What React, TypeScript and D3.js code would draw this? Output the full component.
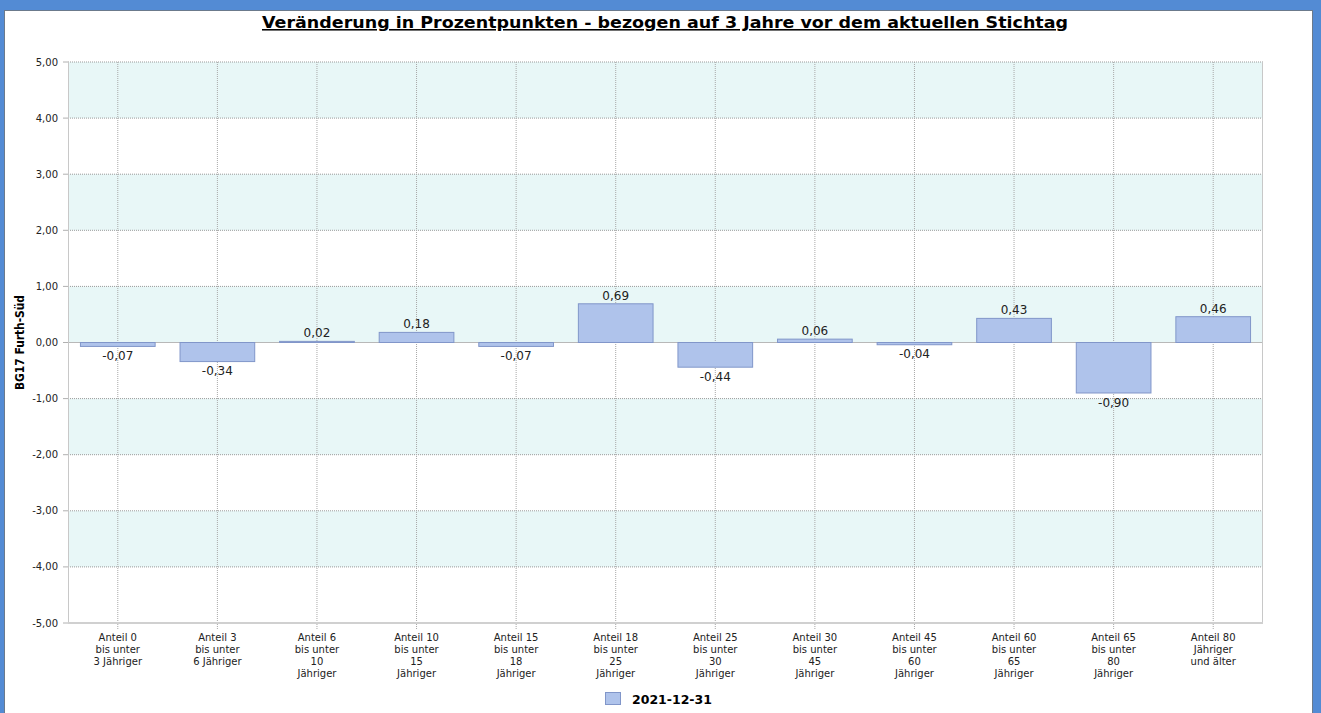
import React, { useEffect } from 'react'
import * as d3 from 'd3'

const W = 1321
const H = 713
const M = { top: 62, right: 58, bottom: 90, left: 68 }

const TITLE = 'Veränderung in Prozentpunkten - bezogen auf 3 Jahre vor dem aktuellen Stichtag'
const Y_TITLE = 'BG17 Furth-Süd'
const SERIES = '2021-12-31'

const categories = [
  ['Anteil 0', 'bis unter', '3 Jähriger'],
  ['Anteil 3', 'bis unter', '6 Jähriger'],
  ['Anteil 6', 'bis unter', '10', 'Jähriger'],
  ['Anteil 10', 'bis unter', '15', 'Jähriger'],
  ['Anteil 15', 'bis unter', '18', 'Jähriger'],
  ['Anteil 18', 'bis unter', '25', 'Jähriger'],
  ['Anteil 25', 'bis unter', '30', 'Jähriger'],
  ['Anteil 30', 'bis unter', '45', 'Jähriger'],
  ['Anteil 45', 'bis unter', '60', 'Jähriger'],
  ['Anteil 60', 'bis unter', '65', 'Jähriger'],
  ['Anteil 65', 'bis unter', '80', 'Jähriger'],
  ['Anteil 80', 'Jähriger', 'und älter'],
]
const values = [-0.07, -0.34, 0.02, 0.18, -0.07, 0.69, -0.44, 0.06, -0.04, 0.43, -0.9, 0.46]
const yDomain = [-5, 5]

const locale = d3.formatLocale({ decimal: ',', thousands: '.', grouping: [3], currency: ['', ' €'], minus: '-' })
const fmt = locale.format('.2f')

const FONT = '"DejaVu Sans", Verdana, sans-serif'

const App = () => {
  useEffect(() => {
    document.body.style.margin = '0'
  }, [])

  const innerW = W - M.left - M.right
  const innerH = H - M.top - M.bottom
  const keys = categories.map((_, i) => String(i))
  const x = d3.scaleBand().domain(keys).range([0, innerW]).paddingInner(0.25).paddingOuter(0.125)
  const xc = (i: number) => (x(String(i)) as number) + x.bandwidth() / 2
  const y = d3.scaleLinear().domain(yDomain).range([innerH, 0])
  const ticks = y.ticks(10)

  return (
    <svg width={W} height={H} style={{ position: 'absolute', left: 0, top: 0, fontFamily: FONT }}>
      {/* window frame */}
      <rect x={0} y={0} width={W} height={H} fill="#538bd4" />
      <rect x={4.5} y={10.5} width={1308} height={H} fill="#fff" stroke="#6b7a8c" />

      <text x={665} y={28} textAnchor="middle" fontSize={15.5} fontWeight="bold" textDecoration="underline"
        textLength={806} lengthAdjust="spacingAndGlyphs" fill="#000">
        {TITLE}
      </text>

      <g transform={`translate(${M.left}, ${M.top})`}>
        {/* alternating bands */}
        {ticks.slice(0, -1).filter(t => t % 2 === 0).map(t => (
          <rect key={t} x={0} y={y(t + 1)} width={innerW} height={y(t) - y(t + 1)} fill="#e8f7f7" />
        ))}

        {/* horizontal grid */}
        {ticks.map(t => (
          <g key={t}>
            <line x1={0} x2={innerW} y1={y(t)} y2={y(t)}
              style={{ stroke: t === 0 ? '#b8b8b8' : '#9a9a9a', strokeDasharray: t === 0 ? 'none' : '1 1' }} />
            <line x1={-5} x2={0} y1={y(t)} y2={y(t)} style={{ stroke: '#b0b0b0' }} />
            <text x={-10} y={y(t)} dy="0.35em" textAnchor="end" fontSize={10} fill="#222">{fmt(t)}</text>
          </g>
        ))}

        {/* vertical grid */}
        {categories.map((_, i) => (
          <line key={i} x1={xc(i)} x2={xc(i)} y1={0} y2={innerH + 6}
            style={{ stroke: '#a8a8a8', strokeDasharray: '1 1' }} />
        ))}

        {/* frame of plot */}
        <line x1={0.5} x2={0.5} y1={0} y2={innerH} style={{ stroke: '#c8c8c8' }} />
        <line x1={innerW - 0.5} x2={innerW - 0.5} y1={0} y2={innerH} style={{ stroke: '#c8c8c8' }} />
        <line x1={0} x2={innerW} y1={innerH} y2={innerH} style={{ stroke: '#d0d0d0', strokeWidth: 2 }} />

        {/* bars */}
        {values.map((v, i) => (
          <rect key={i} x={x(String(i))} y={y(Math.max(0, v))} width={x.bandwidth()}
            height={Math.abs(y(v) - y(0))} fill="#afc3eb" stroke="#8196c9" />
        ))}

        {/* value labels */}
        {values.map((v, i) => (
          <text key={i} x={xc(i)} y={v >= 0 ? y(v) - 4 : y(v) + 4} dy={v >= 0 ? 0 : '0.8em'}
            textAnchor="middle" fontSize={12} fill="#222">{fmt(v)}</text>
        ))}

        {/* category labels */}
        {categories.map((lines, i) => (
          <text key={i} x={xc(i)} y={innerH + 18} textAnchor="middle" fontSize={10} fill="#222">
            {lines.map((l, j) => (
              <tspan key={j} x={xc(i)} dy={j === 0 ? 0 : 12}>{l}</tspan>
            ))}
          </text>
        ))}
      </g>

      <text transform={`translate(24, ${M.top + y(0)}) rotate(-90)`} textAnchor="middle" fontSize={12} fontWeight="bold"
        textLength={95} lengthAdjust="spacingAndGlyphs" fill="#000">
        {Y_TITLE}
      </text>

      {/* legend */}
      <rect x={605.5} y={692.5} width={15} height={12} fill="#afc3eb" stroke="#8196c9" />
      <text x={632} y={704} fontSize={12.5} fontWeight="bold" fill="#000">{SERIES}</text>
    </svg>
  )
}

export default App
